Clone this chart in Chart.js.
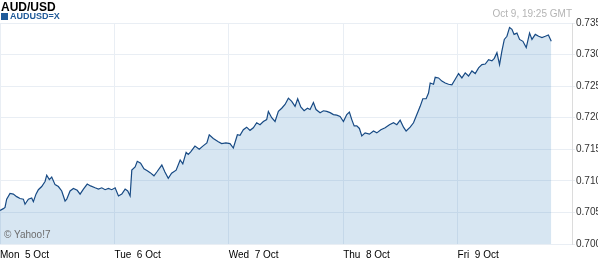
<!DOCTYPE html>
<html>
<head>
<meta charset="utf-8">
<script src="https://cdn.jsdelivr.net/npm/chart.js@4"></script>
<style>
  html, body { margin: 0; padding: 0; background: #fff; }
  #wrap { position: relative; width: 598px; height: 267px; font-family: "Liberation Sans", Arial, sans-serif; }
  #title { position: absolute; left: 1px; top: 0px; font-size: 12px; font-weight: bold; color: #000; }
  #legend { position: absolute; left: 1px; top: 11px; font-size: 9px; font-weight: bold; color: #1f5a99; }
  #legend span { display: inline-block; width: 7px; height: 7px; background: #1f5a99; margin-right: 2px; vertical-align: -1px; }
  #stamp { position: absolute; right: 26px; top: 8px; font-size: 10px; color: #b4b4b4; }
  #copy { position: absolute; left: 4px; top: 229px; font-size: 10px; color: #6c6c6c; }
  canvas { position: absolute; left: 0; top: 0; }
</style>
</head>
<body>
<div id="wrap">
  <canvas id="fx" width="598" height="267"></canvas>
  <div id="title">AUD/USD</div>
  <div id="legend"><span></span>AUDUSD=X</div>
  <div id="stamp">Oct 9, 19:25 GMT</div>
  <div id="copy">© Yahoo!7</div>
</div>
<script>
// timer siden man 5 okt 00:00 og kurs
const hours = [
  0.0, 0.7, 1.05, 1.4, 2.1, 2.8, 3.5, 4.2, 4.9, 5.25, 5.95, 6.65, 7.0, 7.55, 8.05, 8.75,
  9.45, 9.8, 10.35, 10.85, 11.55, 12.25, 12.95, 13.65, 14.0, 14.7, 15.4, 16.2, 16.8, 17.5,
  18.3, 19.0, 19.95, 20.65, 21.35, 22.05, 22.75, 23.45, 24.15, 24.85, 25.55, 26.25, 26.8,
  27.3, 27.65, 28.35, 28.8, 29.5, 30.2, 30.9, 31.5, 32.3, 32.9, 33.95, 34.6, 35.3, 36.0,
  36.95, 37.8, 38.35, 39.05, 39.5, 40.0, 40.9, 41.8, 42.55, 43.4, 43.9, 44.75, 45.8, 46.5,
  47.4, 48.25, 48.95, 49.8, 50.35, 51.05, 51.75, 52.45, 53.15, 53.85, 54.55, 55.25, 55.95,
  56.3, 57.0, 57.7, 58.4, 59.1, 59.8, 60.5, 61.2, 61.9, 62.45, 63.1, 63.8, 64.5, 65.05,
  65.75, 66.3, 67.15, 67.85, 68.55, 69.25, 69.95, 70.65, 71.35, 72.05, 72.75, 73.3, 73.8,
  74.3, 74.85, 75.4, 75.9, 76.6, 77.5, 78.35, 79.05, 79.9, 80.8, 81.7, 82.55, 83.25, 83.95,
  84.65, 85.2, 86.05, 86.75, 87.45, 88.15, 88.7, 89.4, 89.9, 90.25, 90.95, 91.3, 92.0,
  92.7, 93.4, 94.1, 94.8, 95.5, 96.2, 96.9, 97.6, 98.3, 99.0, 99.7, 100.4, 101.1, 101.8,
  102.5, 103.2, 103.7, 104.25, 104.8, 105.3, 105.8, 106.35, 106.9, 107.4, 107.85, 108.45,
  109.0, 109.7, 110.4, 111.1, 111.6, 112.3, 113.0, 113.7, 114.4, 115.05, 115.65
];
const rates = [
  0.7053, 0.7056, 0.7058, 0.7071, 0.7080, 0.7079, 0.7075, 0.7072, 0.7071, 0.7063, 0.7071, 0.7073, 0.7067, 0.7079, 0.7086, 0.7091,
  0.7099, 0.7109, 0.7102, 0.7106, 0.7094, 0.7091, 0.7084, 0.7068, 0.7071, 0.7084, 0.7088, 0.7085, 0.7079, 0.7087,
  0.7095, 0.7092, 0.7089, 0.7087, 0.7089, 0.7086, 0.7088, 0.7086, 0.7089, 0.7076, 0.7079, 0.7087, 0.7084,
  0.7076, 0.7117, 0.7122, 0.7131, 0.7128, 0.7119, 0.7116, 0.7113, 0.7108, 0.7114, 0.7125, 0.7114, 0.7104, 0.7112,
  0.7117, 0.7133, 0.7127, 0.7145, 0.7142, 0.7146, 0.7155, 0.7150, 0.7155, 0.7160, 0.7173, 0.7167, 0.7162, 0.7159,
  0.7160, 0.7159, 0.7152, 0.7173, 0.7172, 0.7181, 0.7185, 0.7180, 0.7184, 0.7192, 0.7189, 0.7194, 0.7197,
  0.7210, 0.7200, 0.7194, 0.7210, 0.7215, 0.7221, 0.7231, 0.7226, 0.7218, 0.7230, 0.7217, 0.7211, 0.7215, 0.7213,
  0.7224, 0.7213, 0.7208, 0.7211, 0.7210, 0.7208, 0.7205, 0.7204, 0.7202, 0.7194, 0.7205, 0.7209, 0.7197,
  0.7187, 0.7187, 0.7183, 0.7171, 0.7176, 0.7174, 0.7179, 0.7176, 0.7181, 0.7184, 0.7189, 0.7192, 0.7189, 0.7196,
  0.7185, 0.7179, 0.7185, 0.7192, 0.7205, 0.7218, 0.7230, 0.7230, 0.7239, 0.7255, 0.7253, 0.7264, 0.7263,
  0.7258, 0.7255, 0.7253, 0.7252, 0.7261, 0.7270, 0.7263, 0.7271, 0.7266, 0.7274, 0.7270, 0.7279, 0.7284, 0.7285,
  0.7292, 0.7290, 0.7294, 0.7303, 0.7284, 0.7306, 0.7324, 0.7329, 0.7343, 0.7340, 0.7332, 0.7334,
  0.7324, 0.7321, 0.7311, 0.7334, 0.7324, 0.7332, 0.7329, 0.7327, 0.7329, 0.7331, 0.7321
];
const dayLabels = ['Mon  5 Oct', 'Tue  6 Oct', 'Wed  7 Oct', 'Thu  8 Oct', 'Fri  9 Oct', ''];
const yMin = 0.700, yMax = 0.735, yStep = 0.005;

const points = hours.map((h, i) => ({ x: h, y: rates[i] }));
const gridCol = '#e9eef4';

new Chart(document.getElementById('fx'), {
  type: 'line',
  data: {
    datasets: [{
      label: 'AUDUSD=X',
      data: points,
      borderColor: '#174a84',
      borderWidth: 1.2,
      backgroundColor: 'rgba(60,130,190,0.205)',
      fill: 'start',
      pointRadius: 0,
      tension: 0
    }]
  },
  options: {
    responsive: false,
    animation: false,
    layout: { padding: { top: 23, left: 0, right: 0, bottom: 0 } },
    plugins: { legend: { display: false }, tooltip: { enabled: false } },
    scales: {
      x: {
        type: 'linear',
        min: 0, max: 120,
        afterBuildTicks: ax => { ax.ticks = dayLabels.map((_, i) => ({ value: i * 24 })); },
        afterFit: ax => { ax.height = 23; ax.paddingLeft = 0; ax.paddingRight = 0; },
        grid: { color: gridCol, drawTicks: false },
        border: { display: false },
        ticks: {
          align: 'start',
          padding: 5,
          maxRotation: 0,
          autoSkip: false,
          color: '#000',
          font: { family: 'Liberation Sans', size: 10 },
          callback: (v, i) => dayLabels[i]
        }
      },
      y: {
        position: 'right',
        min: yMin, max: yMax,
        afterFit: ax => { ax.width = 26; },
        grid: { color: gridCol, tickLength: 3, drawTicks: true },
        border: { display: true, color: '#dcdcdc' },
        ticks: {
          stepSize: yStep,
          padding: 1,
          color: '#333',
          font: { family: 'Liberation Sans', size: 10 },
          callback: v => Number(v).toFixed(3)
        }
      }
    }
  }
});
</script>
</body>
</html>
